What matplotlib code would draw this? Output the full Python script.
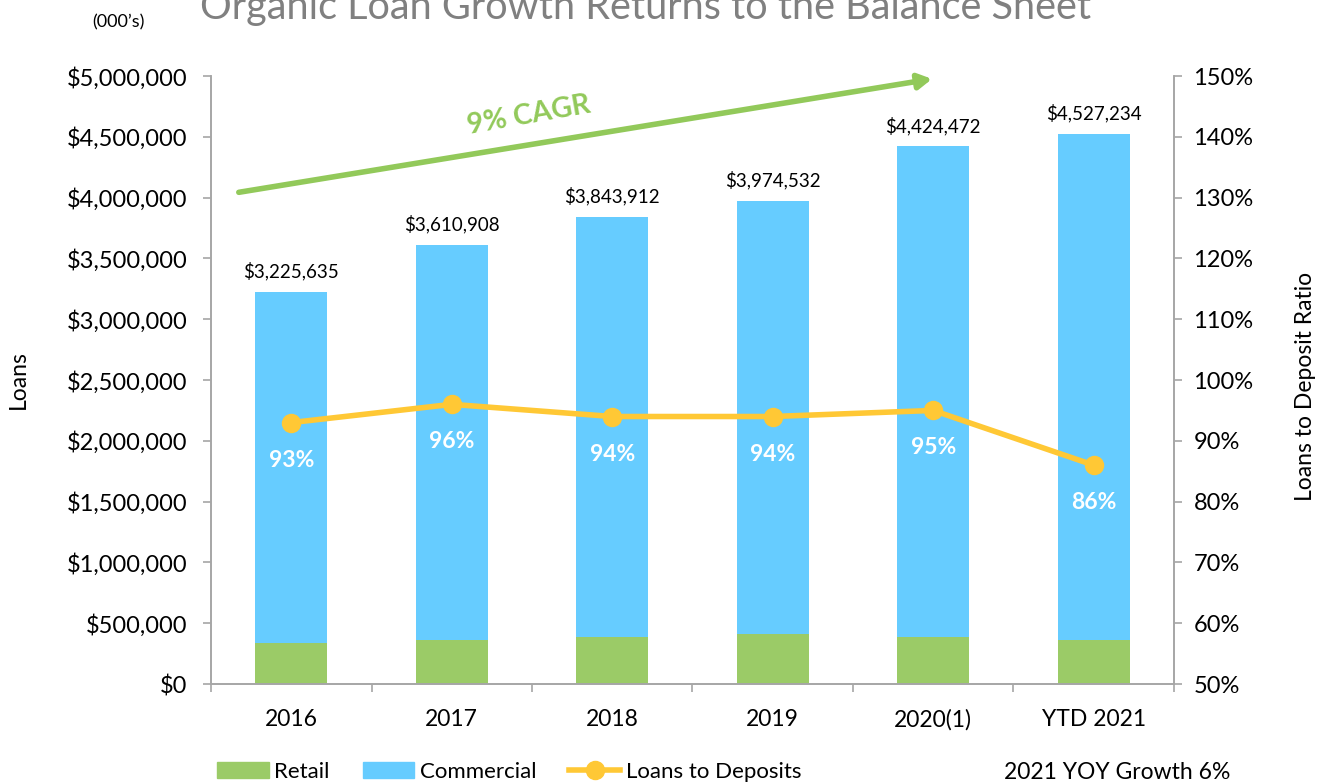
import matplotlib
matplotlib.use("Agg")
import matplotlib.pyplot as plt
from matplotlib.patches import Patch
from matplotlib.lines import Line2D
from matplotlib.ticker import FuncFormatter

plt.rcParams["font.family"] = ["Lato", "DejaVu Sans"]

# Data (000's)
years = ["2016", "2017", "2018", "2019", "2020(1)", "YTD 2021"]
total_loans = [3225635, 3610908, 3843912, 3974532, 4424472, 4527234]
retail = [337000, 362000, 386000, 411000, 386000, 362000]
commercial = [t - r for t, r in zip(total_loans, retail)]
loans_to_deposits = [93, 96, 94, 94, 95, 86]

green = "#9BCB67"
blue = "#66CCFF"
yellow = "#FFC835"
arrow_green = "#92C95A"
axis_gray = "#A6A6A6"

fig = plt.figure(figsize=(13.18, 7.83), dpi=100)
ax = fig.add_axes([0.1601, 0.1264, 0.7306, 0.7765])
ax2 = ax.twinx()

x = list(range(len(years)))
ax.bar(x, retail, width=0.45, color=green, zorder=2)
ax.bar(x, commercial, width=0.45, bottom=retail, color=blue, zorder=2)

for xi, t in zip(x, total_loans):
    ax.annotate(f"${t:,.0f}", (xi, t), xytext=(0, 8), textcoords="offset points",
                ha="center", va="bottom", fontsize=13.5, color="black")

ax.set_xlim(-0.5, 5.5)
ax.set_ylim(0, 5000000)
ax.set_yticks(range(0, 5000001, 500000))
ax.yaxis.set_major_formatter(FuncFormatter(lambda v, p: f"${v:,.0f}"))
ax.set_xticks(x)
ax.set_xticklabels(years)
ax.set_xticks([i - 0.5 for i in range(len(years) + 1)], minor=True)
ax.tick_params(axis="x", which="major", length=0, pad=18, labelsize=16.5)
ax.tick_params(axis="x", which="minor", length=6, color=axis_gray, width=1.2)
ax.tick_params(axis="y", length=6, color=axis_gray, width=1.2, labelsize=17, pad=11)
ax.set_ylabel("Loans", fontsize=16.5)
ax.yaxis.set_label_coords(-0.189, 0.5)

ax2.plot(x, loans_to_deposits, color=yellow, lw=4, marker="o", markersize=13, zorder=3)
for xi, v in zip(x, loans_to_deposits):
    ax2.annotate(f"{v}%", (xi, v), xytext=(0, -27), textcoords="offset points",
                 ha="center", va="center", fontsize=16.5, fontweight="bold", color="white")
ax2.set_ylim(50, 150)
ax2.set_yticks(range(50, 151, 10))
ax2.yaxis.set_major_formatter(FuncFormatter(lambda v, p: f"{v:.0f}%"))
ax2.tick_params(axis="y", length=6, color=axis_gray, width=1.2, labelsize=17, pad=8)
ax2.set_ylabel("Loans to Deposit Ratio", fontsize=16.5)
ax2.yaxis.set_label_coords(1.126, 0.49)

for a in (ax, ax2):
    a.spines["top"].set_visible(False)
    for s in ("left", "right", "bottom"):
        a.spines[s].set_color(axis_gray)
        a.spines[s].set_linewidth(1.2)

# CAGR arrow
ax.annotate("", xy=(4.01, 4980000), xytext=(-0.344, 4040000),
            arrowprops=dict(arrowstyle="-|>,head_length=0.8,head_width=0.45",
                            color=arrow_green, lw=4), zorder=4)
ax.text(1.48, 4680000, "9% CAGR", color=arrow_green, fontsize=20.5, fontweight="bold",
        rotation=10, ha="center", va="center")

fig.text(0.49, 0.99, "Organic Loan Growth Returns to the Balance Sheet",
         ha="center", va="center", fontsize=28.5, color="#808080")
fig.text(0.09, 0.972, "(000\u2019s)", ha="center", va="center", fontsize=13)

handles = [Patch(color=green), Patch(color=blue),
           Line2D([0], [0], color=yellow, lw=4, marker="o", markersize=13)]
fig.legend(handles, ["Retail", "Commercial", "Loans to Deposits"], ncol=3,
           loc="center left", bbox_to_anchor=(0.165, 0.014), frameon=False,
           fontsize=16, handlelength=2.3, handletextpad=0.25, columnspacing=1.5,
           borderpad=0, borderaxespad=0)
fig.text(0.848, 0.014, "2021 YOY Growth 6%", ha="center", va="center", fontsize=16.5)

fig.savefig("out.png", dpi=100)
